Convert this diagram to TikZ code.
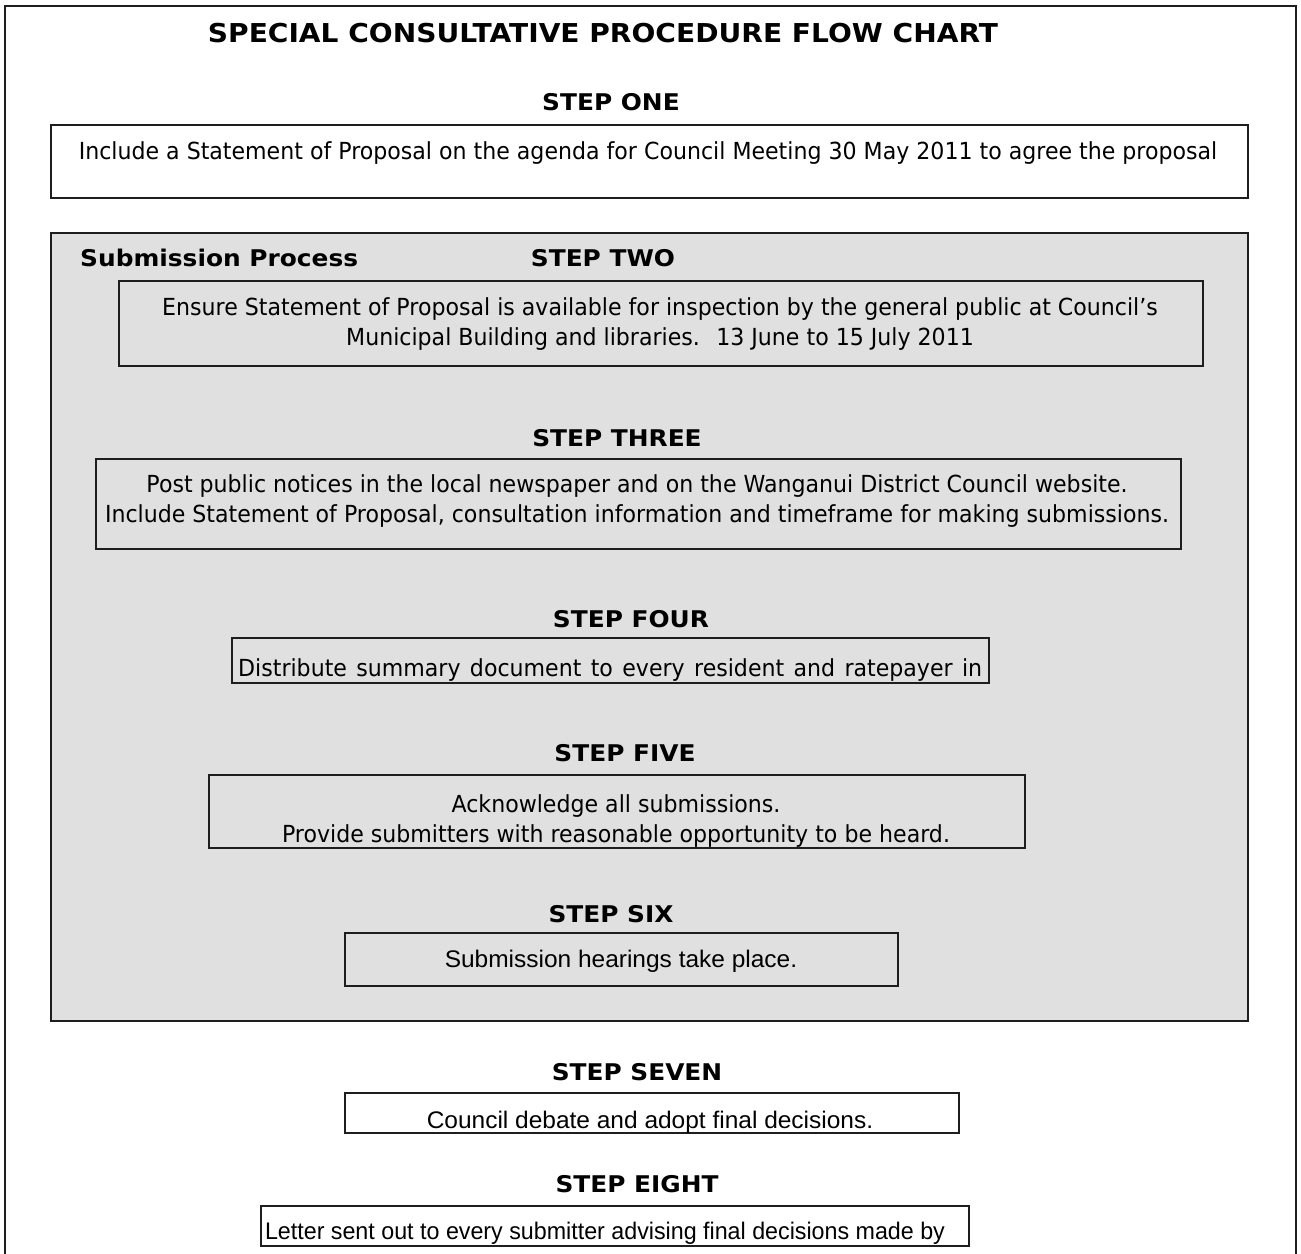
\documentclass[tikz,border=0pt]{standalone}
\usepackage{fontspec}
\setmainfont{DejaVu Sans}[FakeStretch=0.94, BoldFeatures={FakeStretch=1.08}]
\newfontfamily\narrowfont{Liberation Sans}[FakeStretch=1.02]
\definecolor{panelgray}{RGB}{224,224,224}
\definecolor{edge}{RGB}{30,30,30}
\tikzset{
  frame/.style={draw=edge, line width=1.6pt},
  stepbox/.style={draw=edge, line width=1.6pt, inner sep=0pt, anchor=north west},
  steplabel/.style={font=\bfseries\fontsize{23}{30}\selectfont, anchor=base, inner sep=0pt},
  boxtext/.style={font=\fontsize{23.5}{30}\selectfont, anchor=base, inner sep=0pt, align=center},
  narrowtext/.style={font=\narrowfont\fontsize{24}{30}\selectfont, anchor=base, inner sep=0pt},
}

\begin{document}
\begin{tikzpicture}[x=1pt,y=-1pt]
  \useasboundingbox (0,0) rectangle (1301,1253);
  \draw[frame] (5,6) rectangle (1296,1320);
  \node[font=\bfseries\fontsize{26}{30}\selectfont, anchor=base, inner sep=0pt] (title) at (603,42)
    {SPECIAL CONSULTATIVE PROCEDURE FLOW CHART};

  % step one
  \node[steplabel] (lone) at (611,110) {STEP ONE};
  \node[stepbox, minimum width=1197pt, minimum height=73pt] (one) at (50,124) {};
  \node[boxtext] (tone) at (648,159)
    {Include a Statement of Proposal on the agenda for Council Meeting 30 May 2011 to agree the proposal};

  % submission process panel
  \node[stepbox, fill=panelgray, minimum width=1197pt, minimum height=788pt] (panel) at (50,232) {};
  \node[steplabel, anchor=base west] (sub) at (80,266) {Submission Process};

  \node[steplabel] (ltwo) at (603,266) {STEP TWO};
  \node[stepbox, minimum width=1084pt, minimum height=85pt] (two) at (118,280) {};
  \node[boxtext] (ttwo) at (660,345)
    {Ensure Statement of Proposal is available for inspection by the general public at Council’s\\
     Municipal Building and libraries.~ 13 June to 15 July 2011};

  \node[steplabel] (lthree) at (617,446) {STEP THREE};
  \node[stepbox, minimum width=1085pt, minimum height=90pt] (three) at (95,458) {};
  \node[boxtext] (tthree) at (637,522)
    {Post public notices in the local newspaper and on the Wanganui District Council website.\\
     Include Statement of Proposal, consultation information and timeframe for making submissions.};

  \node[steplabel] (lfour) at (631,627) {STEP FOUR};
  \node[stepbox, minimum width=757pt, minimum height=45pt] (four) at (231,637) {};
  \begin{scope}
    \clip (four.south west) rectangle (four.north east);
    \node[boxtext, anchor=base west] (tfour) at (238,676)
      {\makebox[744pt][s]{Distribute summary document to every resident and ratepayer in}};
  \end{scope}

  \node[steplabel] (lfive) at (625,761) {STEP FIVE};
  \node[stepbox, minimum width=816pt, minimum height=73pt] (five) at (208,774) {};
  \begin{scope}
    \clip (five.south west) rectangle (five.north east);
    \node[boxtext] (tfive) at (616,842)
      {Acknowledge all submissions.\\
       Provide submitters with reasonable opportunity to be heard.};
  \end{scope}

  \node[steplabel] (lsix) at (611,922) {STEP SIX};
  \node[stepbox, minimum width=553pt, minimum height=53pt] (six) at (344,932) {};
  \node[narrowtext] (tsix) at (621,967) {Submission hearings take place.};

  % after the panel
  \node[steplabel] (lseven) at (637,1080) {STEP SEVEN};
  \node[stepbox, minimum width=614pt, minimum height=40pt] (seven) at (344,1092) {};
  \begin{scope}
    \clip (seven.south west) rectangle (seven.north east);
    \node[narrowtext] (tseven) at (650,1128) {Council debate and adopt final decisions.};
  \end{scope}

  \node[steplabel] (leight) at (637,1192) {STEP EIGHT};
  \node[stepbox, minimum width=708pt, minimum height=40pt] (eight) at (260,1205) {};
  \node[narrowtext] (teight) at (605,1239)
    {\scalebox{0.95}[1]{Letter sent out to every submitter advising final decisions made by}};
\end{tikzpicture}
\end{document}
